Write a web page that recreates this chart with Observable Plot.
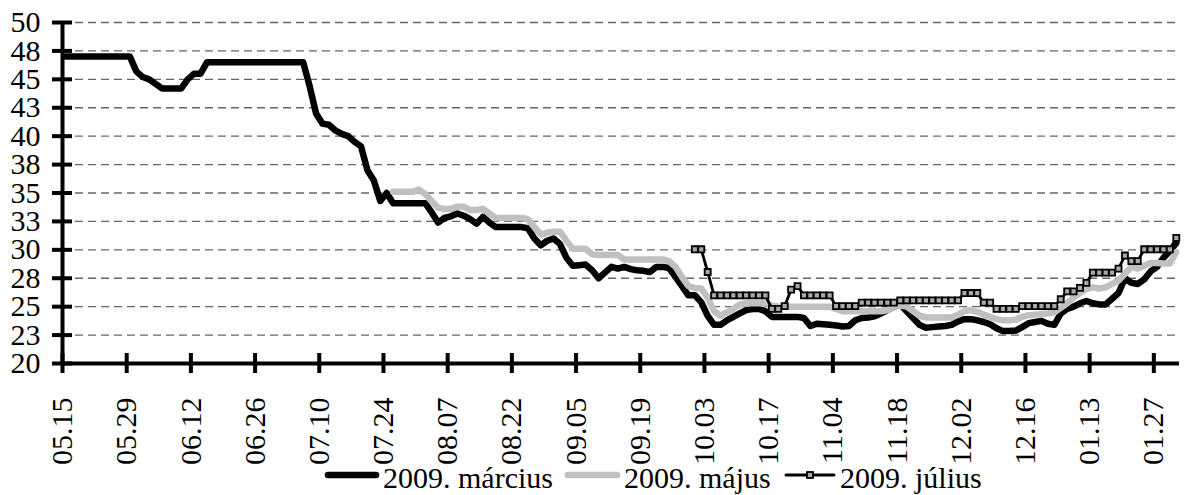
<!DOCTYPE html>
<html><head><meta charset="utf-8">
<script src="https://cdn.jsdelivr.net/npm/d3@7"></script>
<script src="https://cdn.jsdelivr.net/npm/@observablehq/plot@0.6"></script>
<style>
body{margin:0;background:#fff;}
#chart svg,#legend svg{display:block}
</style></head><body><div id="chart"></div><div id="legend"></div>
<script>
const xTickLabels = ["05.15","05.29","06.12","06.26","07.10","07.24","08.07","08.22","09.05","09.19","10.03","10.17","11.04","11.18","12.02","12.16","01.13","01.27"];
const xTickStep = 10;
const yTicks = [20,22.5,25,27.5,30,32.5,35,37.5,40,42.5,45,47.5,50];
const yTickLabels = ["20","23","25","28","30","33","35","38","40","43","45","48","50"];
const seriesNames = ["2009. március","2009. május","2009. július"];

const marchValues = [
47.0,47.0,47.0,47.0,47.0,47.0,47.0,47.0,47.0,47.0,
47.0,45.7,45.2,45.0,44.6,44.2,44.2,44.2,44.2,45.0,
45.5,45.5,46.5,46.5,46.5,46.5,46.5,46.5,46.5,46.5,
46.5,46.5,46.5,46.5,46.5,46.5,46.5,46.5,44.4,42.0,
41.1,41.0,40.5,40.2,40.0,39.5,39.1,37.0,36.1,34.3,
35.0,34.1,34.1,34.1,34.1,34.1,34.1,33.3,32.4,32.8,
32.95,33.2,33.0,32.7,32.3,32.9,32.4,32.0,32.0,32.0,
32.0,32.0,31.9,31.0,30.4,30.8,31.0,30.5,29.3,28.6,
28.65,28.7,28.2,27.5,28.0,28.5,28.35,28.5,28.3,28.2,
28.15,28.05,28.5,28.5,28.4,27.6,26.8,26.0,26.0,25.4,
24.2,23.4,23.4,23.8,24.1,24.4,24.7,24.8,24.8,24.6,
24.1,24.1,24.1,24.1,24.1,24.0,23.3,23.5,23.45,23.4,
23.35,23.25,23.3,23.8,24.0,24.05,24.15,24.4,24.7,25.0,
25.2,24.6,24.0,23.4,23.15,23.2,23.25,23.3,23.4,23.7,
23.9,23.9,23.8,23.65,23.45,23.1,22.85,22.85,22.9,23.2,
23.55,23.65,23.75,23.5,23.4,24.4,24.8,25.0,25.3,25.5,
25.3,25.2,25.2,25.7,26.2,27.5,27.1,27.0,27.4,28.1,
28.5,29.3,29.9,30.6
];

const mayStart = 51;
const mayValues = [
35.1,35.1,35.1,35.1,35.3,34.9,34.3,33.7,33.6,
33.6,33.8,33.8,33.5,33.5,33.6,33.2,32.8,32.8,32.8,
32.8,32.8,32.7,32.0,31.35,31.5,31.6,31.6,30.8,30.1,
30.1,30.1,29.6,29.55,29.55,29.55,29.55,29.15,29.15,29.15,
29.15,29.15,29.15,29.15,29.0,28.5,27.6,26.8,26.65,26.6,
25.8,24.6,24.2,24.5,24.8,25.2,25.3,25.3,25.3,25.3,
25.1,25.0,25.0,25.0,25.0,25.0,25.0,25.0,25.0,25.0,
24.8,24.6,24.6,24.6,24.6,24.6,24.6,24.6,24.7,25.0,
25.1,25.0,24.6,24.2,24.05,24.05,24.05,24.05,24.05,24.3,
24.6,24.7,24.55,24.3,24.1,23.9,23.8,23.8,23.85,24.1,
24.25,24.3,24.35,24.4,24.5,24.9,25.3,25.8,26.2,26.55,
26.7,26.6,26.7,27.0,27.3,27.9,28.5,28.35,28.6,28.85,
28.85,28.8,28.8,29.8
];

const julyStart = 98;
const julyValues = [
30.05,30.05,
28.05,26.0,26.0,26.0,26.0,26.0,26.0,26.0,26.0,26.0,
24.8,24.8,25.05,26.5,26.8,26.0,26.0,26.0,26.0,26.0,
25.05,25.05,25.05,25.05,25.35,25.35,25.35,25.35,25.35,25.35,
25.55,25.55,25.55,25.55,25.55,25.55,25.55,25.55,25.55,25.55,
26.2,26.2,26.2,25.35,25.35,24.8,24.8,24.8,24.8,25.05,
25.05,25.05,25.05,25.05,25.05,25.65,26.35,26.35,26.65,27.1,
28.0,28.0,28.0,28.0,28.35,29.5,29.0,29.0,30.05,30.05,
30.05,30.05,30.05,31.05
];

const nCategories = marchValues.length;
const toPts = (vals, start) => vals.map((v, i) => ({x: start + i + 0.5, y: v}));
const xTickPos = xTickLabels.map((_, i) => i * xTickStep);
const font = "'Liberation Serif','Times New Roman',serif";

const march = toPts(marchValues, 0);
const may = toPts(mayValues, mayStart);
const july = toPts(julyValues, julyStart);

const chart = Plot.plot({
  width: 1185, height: 460,
  marginLeft: 62, marginRight: 6, marginTop: 22, marginBottom: 97,
  x: {domain: [0, nCategories]},
  y: {domain: [20, 50]},
  style: {fontFamily: font, background: "#fff", color: "#000", overflow: "visible"},
  marks: [
    Plot.ruleY(yTicks.slice(1), {stroke: "#666", strokeWidth: 1.3, strokeDasharray: "8,5"}),
    Plot.line(march, {x: "x", y: "y", stroke: "#000", strokeWidth: 6.5, strokeLinejoin: "round", strokeLinecap: "round"}),
    Plot.line(may, {x: "x", y: "y", stroke: "#c0c0c0", strokeWidth: 6.5, strokeLinejoin: "round", strokeLinecap: "round"}),
    Plot.line(july, {x: "x", y: "y", stroke: "#000", strokeWidth: 2.8}),
    Plot.dot(july, {x: "x", y: "y", symbol: "square", r: 3.4, fill: "#a8a8a8", stroke: "#000", strokeWidth: 1.8}),
    Plot.ruleX([0], {stroke: "#000", strokeWidth: 4}),
    Plot.ruleY([20], {stroke: "#000", strokeWidth: 4}),
    Plot.axisY(yTicks, {label: null, tickSize: 20, dx: 10, tickPadding: 12, strokeWidth: 4, fontSize: 30,
      tickFormat: d => yTickLabels[yTicks.indexOf(d)]}),
    Plot.axisX(xTickPos, {label: null, tickSize: 20, dy: -10, tickPadding: 24, tickRotate: -90, strokeWidth: 4, fontSize: 30,
      tickFormat: d => xTickLabels[xTickPos.indexOf(d)]})
  ]
});
document.getElementById("chart").appendChild(chart);

// legend
const lg = d3.select("#legend").append("svg").attr("width", 1185).attr("height", 35)
  .style("font-family", font).style("font-size", "30px");
const items = [
  {x0: 328, x1: 376, tx: 383, stroke: "#000", w: 6.5, marker: false},
  {x0: 568, x1: 617, tx: 624, stroke: "#c0c0c0", w: 6.5, marker: false},
  {x0: 786, x1: 834, tx: 840, stroke: "#000", w: 3, marker: true}
];
items.forEach((it, i) => {
  lg.append("line").attr("x1", it.x0).attr("x2", it.x1).attr("y1", 15).attr("y2", 15)
    .attr("stroke", it.stroke).attr("stroke-width", it.w).attr("stroke-linecap", "round");
  if (it.marker) {
    lg.append("rect").attr("x", (it.x0 + it.x1) / 2 - 3).attr("y", 12).attr("width", 6).attr("height", 6)
      .attr("fill", "#a8a8a8").attr("stroke", "#000").attr("stroke-width", 1.8);
  }
  lg.append("text").attr("x", it.tx).attr("y", 28).text(seriesNames[i]);
});
</script></body></html>
